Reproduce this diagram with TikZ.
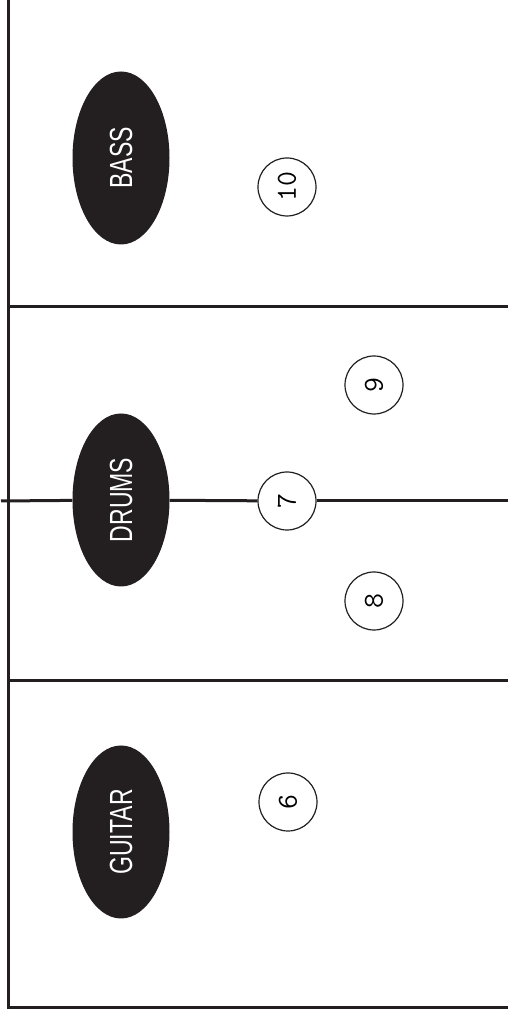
\documentclass[tikz,border=0pt]{standalone}
\usepackage{fontspec}
\usetikzlibrary{shapes.geometric}
\newfontfamily\labelfont{Liberation Sans}
\definecolor{ink}{HTML}{231F20}
\tikzset{
  rule/.style={draw=ink, line width=3pt},
  inst/.style={ellipse, fill=ink, text=white, inner sep=0pt, rotate=90,
    minimum width=173pt, minimum height=97pt,
    font=\labelfont\fontsize{32}{36}\selectfont},
  num/.style={circle, draw=ink, fill=white, line width=1.2pt, inner sep=0pt,
    minimum size=58pt, rotate=90, font=\ttfamily\fontsize{29}{31}\selectfont}
}
\begin{document}
\begin{tikzpicture}[x=1pt,y=1pt]
\useasboundingbox (0,0) rectangle (508,1016);
% frame
\coordinate (tl) at (8,1016);
\coordinate (bl) at (8,8);
\coordinate (br) at (508,8);
\coordinate (r1L) at (8,709);
\coordinate (r1R) at (508,709);
\coordinate (r2L) at (8,335);
\coordinate (r2R) at (508,335);
\coordinate (midL) at (1,515);
\coordinate (midR) at (508,515);
\draw[rule, line cap=rect] (tl) -- (bl) -- (br);
\draw[rule] (r1L) -- (r1R);
\draw[rule] (r2L) -- (r2R);
% instruments
\node[inst] (bass) at (121,858) {\scalebox{0.72}[1]{BASS}};
\node[inst] (drums) at (121,516) {\scalebox{0.72}[1]{DRUMS}};
\node[inst] (guitar) at (121,184) {\scalebox{0.72}[1]{GUITAR}};
% numbers
\node[num] (n10) at (287,829) {10};
\node[num] (n9) at (374,631) {9};
\node[num] (n7) at (287,515) {7};
\node[num] (n8) at (374,415) {8};
\node[num] (n6) at (288,214) {6};
% middle line
\draw[rule] (midL) -- (drums);
\draw[rule] (drums) -- (n7);
\draw[rule] (n7) -- (midR);
\end{tikzpicture}
\end{document}
